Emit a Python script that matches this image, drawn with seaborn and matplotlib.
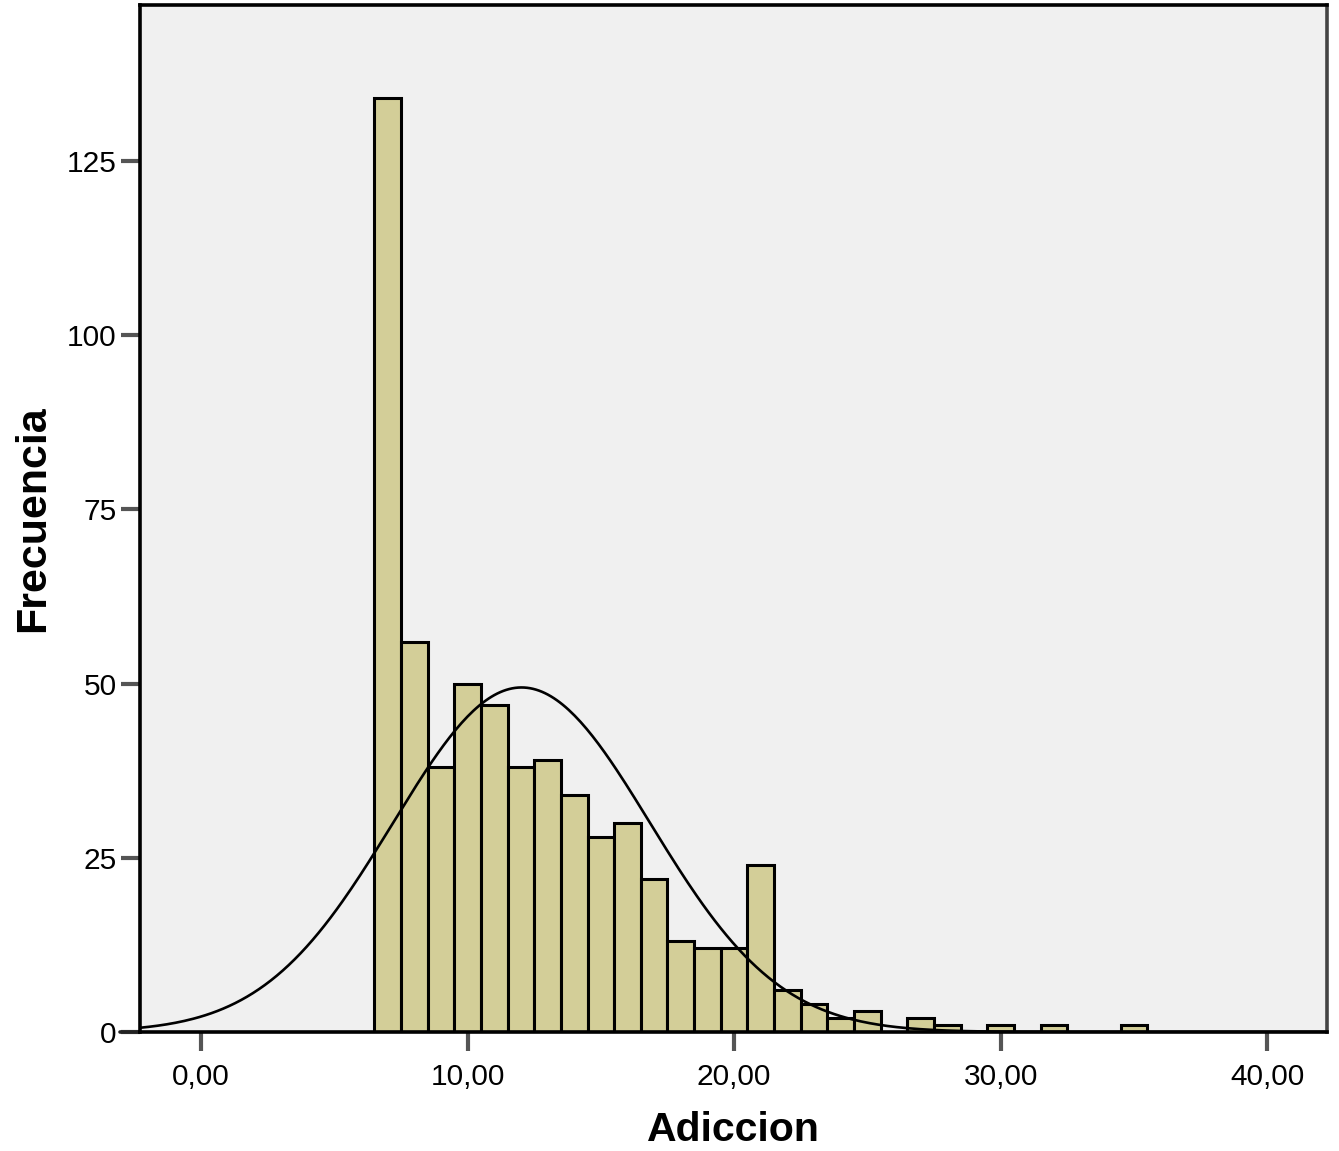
import numpy as np
import pandas as pd
import matplotlib
matplotlib.use("Agg")
import matplotlib.pyplot as plt
import seaborn as sns

# puntuaciones de Adiccion y su frecuencia
valores = [7, 8, 9, 10, 11, 12, 13, 14, 15, 16, 17, 18, 19, 20, 21,
           22, 23, 24, 25, 27, 28, 30, 32, 35]
frecuencias = [134, 56, 38, 50, 47, 38, 39, 34, 28, 30, 22, 13, 12, 12, 24,
               6, 4, 2, 3, 2, 1, 1, 1, 1]

x_ticks = [0, 10, 20, 30, 40]
x_labels = ["0,00", "10,00", "20,00", "30,00", "40,00"]
y_ticks = [0, 25, 50, 75, 100, 125]


def main():
    df = pd.DataFrame({"Adiccion": valores, "n": frecuencias})

    sns.set_theme(style="white")
    plt.rcParams["font.family"] = ["Liberation Sans", "DejaVu Sans"]

    fig = plt.figure(figsize=(13.39, 11.51), dpi=100)
    ax = fig.add_axes([0.1046, 0.1034, 0.8865, 0.8923])
    ax.set_facecolor("#f0f0f0")

    sns.histplot(
        data=df, x="Adiccion", weights="n",
        binwidth=1.0, binrange=(6.5, 35.5),
        color="#d3ce98", alpha=1, edgecolor="black", linewidth=2.2, ax=ax
    )

    # curva normal ajustada (como en SPSS)
    n_total = df["n"].sum()
    media = np.average(df["Adiccion"], weights=df["n"])
    desv = np.sqrt(np.sum(df["n"] * (df["Adiccion"] - media) ** 2) / (n_total - 1))
    xs = np.linspace(-2.3, 42.3, 400)
    curva = n_total * 1.0 / (desv * np.sqrt(2 * np.pi)) * np.exp(-0.5 * ((xs - media) / desv) ** 2)
    sns.lineplot(x=xs, y=curva, color="black", linewidth=1.9, ax=ax)

    ax.set_xlim(-2.29, 42.25)
    ax.set_ylim(0, 147.4)
    ax.set_xticks(x_ticks)
    ax.set_xticklabels(x_labels)
    ax.set_yticks(y_ticks)
    ax.tick_params(axis="both", labelsize=21.5, colors="#555555", labelcolor="black",
                   length=14, width=3, direction="out", bottom=True, left=True)
    ax.tick_params(axis="x", pad=8)
    ax.tick_params(axis="y", pad=3)

    for lado in ["left", "top", "bottom"]:
        ax.spines[lado].set_color("black")
        ax.spines[lado].set_linewidth(2.6)
    ax.spines["right"].set_color("#444444")
    ax.spines["right"].set_linewidth(2.6)

    # la linea base se prolonga un poco a la izquierda
    ax.plot([-0.017, 0], [0, 0], transform=ax.transAxes, color="#222222",
            linewidth=2.6, clip_on=False)

    ax.set_xlabel("Adiccion", fontsize=29.5, fontweight="bold", color="black", labelpad=15)
    ax.set_ylabel("Frecuencia", fontsize=31, fontweight="bold", color="black", labelpad=10)

    fig.savefig("out.png", dpi=100, facecolor="white")
    plt.close(fig)


if __name__ == "__main__":
    main()
